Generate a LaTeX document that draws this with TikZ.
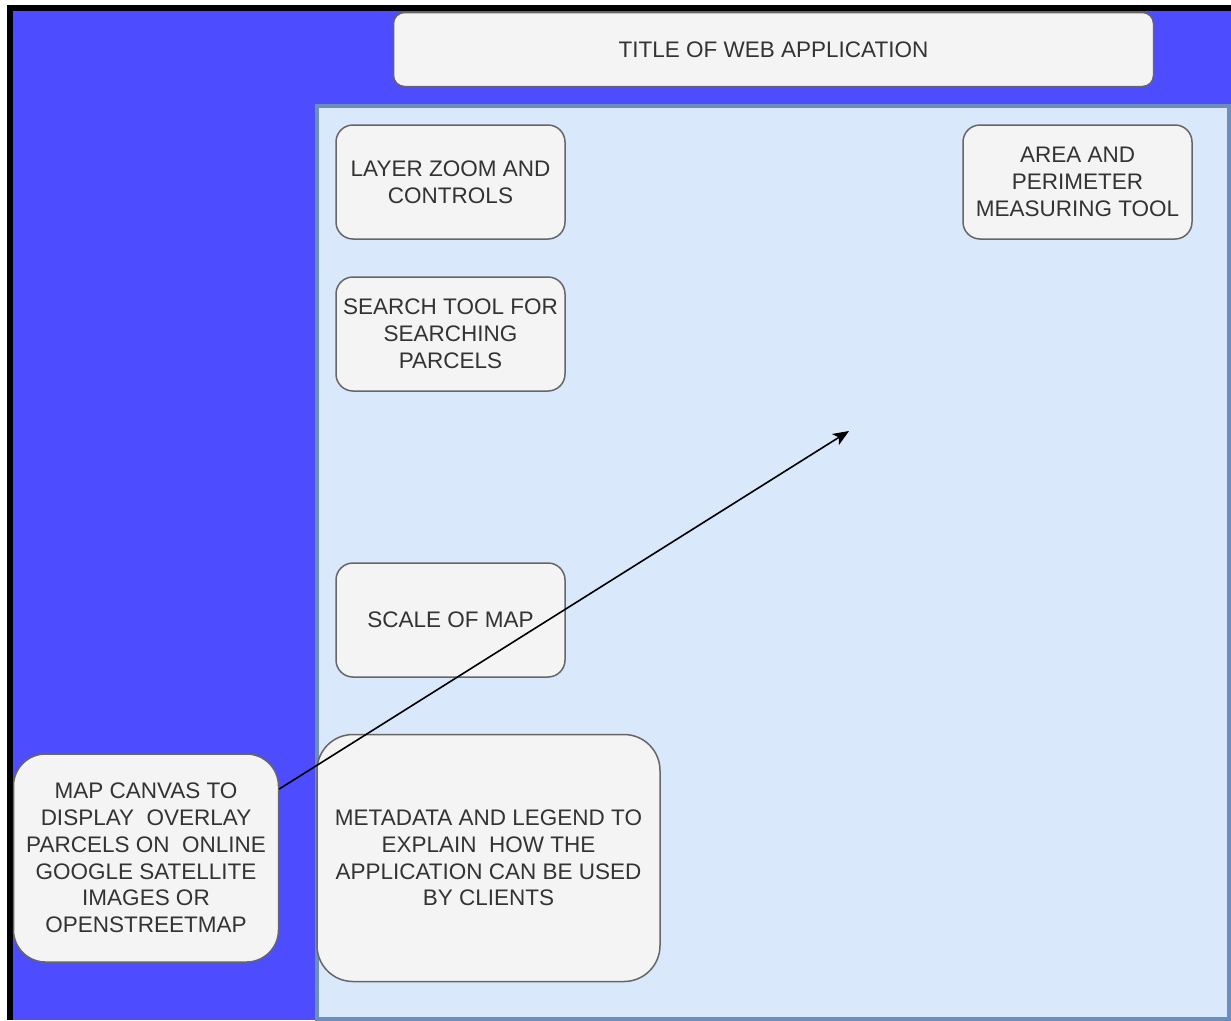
\documentclass[tikz,border=0pt]{standalone}
\usepackage{fontspec}
\setmainfont{Liberation Sans}
\usetikzlibrary{arrows.meta}
\definecolor{bgblue}{RGB}{77,77,255}
\definecolor{panelfill}{HTML}{DAE8FC}
\definecolor{panelline}{HTML}{6C8EBF}
\definecolor{boxfill}{HTML}{F4F4F4}
\definecolor{boxline}{HTML}{666666}
\definecolor{txt}{HTML}{333333}
\tikzset{
  box/.style={draw=boxline, fill=boxfill, line width=1.5pt, rounded corners=#1,
    align=center, inner sep=0pt, text=txt,
    font=\fontsize{22.5pt}{26.8pt}\selectfont},
  box/.default=17pt,
  conn/.style={draw=black, line width=1.6pt, -{Stealth[length=16pt,width=13pt,inset=4pt]}}
}
\begin{document}
\begin{tikzpicture}[x=1pt,y=-1pt]
\useasboundingbox (0,0) rectangle (1231,1020);
\fill[white] (0,0) rectangle (1231,1020);
\fill[black] (7,5) rectangle (1231,1020);
\fill[bgblue] (13,11) rectangle (1231,1020);
% panel
\node[draw=panelline, fill=panelfill, line width=4pt, minimum width=912pt, minimum height=913.5pt, inner sep=0pt] (panel) at (773,562.25) {};
% title
\node[box=11pt, minimum width=760pt, minimum height=74pt] (title) at (773.5,49.5) {TITLE OF WEB APPLICATION};
% small boxes
\node[box, minimum width=229pt, minimum height=114pt] (layer) at (450.5,182) {LAYER ZOOM AND\\CONTROLS};
\node[box, minimum width=229pt, minimum height=114pt] (area) at (1077.5,182) {AREA AND\\PERIMETER\\MEASURING TOOL};
\node[box, minimum width=229pt, minimum height=114pt] (search) at (450.5,334) {SEARCH TOOL FOR\\SEARCHING\\PARCELS};
\node[box, minimum width=229pt, minimum height=114pt] (scale) at (450.5,620) {SCALE OF MAP};
% big boxes
\node[box=36pt, minimum width=343pt, minimum height=247pt] (meta) at (488.5,858) {METADATA AND LEGEND TO\\EXPLAIN~ HOW THE\\APPLICATION CAN BE USED\\BY CLIENTS};
\node[box=32pt, minimum width=265pt, minimum height=208pt] (map) at (146,858) {MAP CANVAS TO\\DISPLAY~ OVERLAY\\PARCELS ON~ ONLINE\\GOOGLE SATELLITE\\IMAGES OR\\OPENSTREETMAP};
% arrow
\coordinate (tip) at (849,431);
\draw[conn] ([yshift=69pt]map.east) -- (tip);
\end{tikzpicture}
\end{document}
